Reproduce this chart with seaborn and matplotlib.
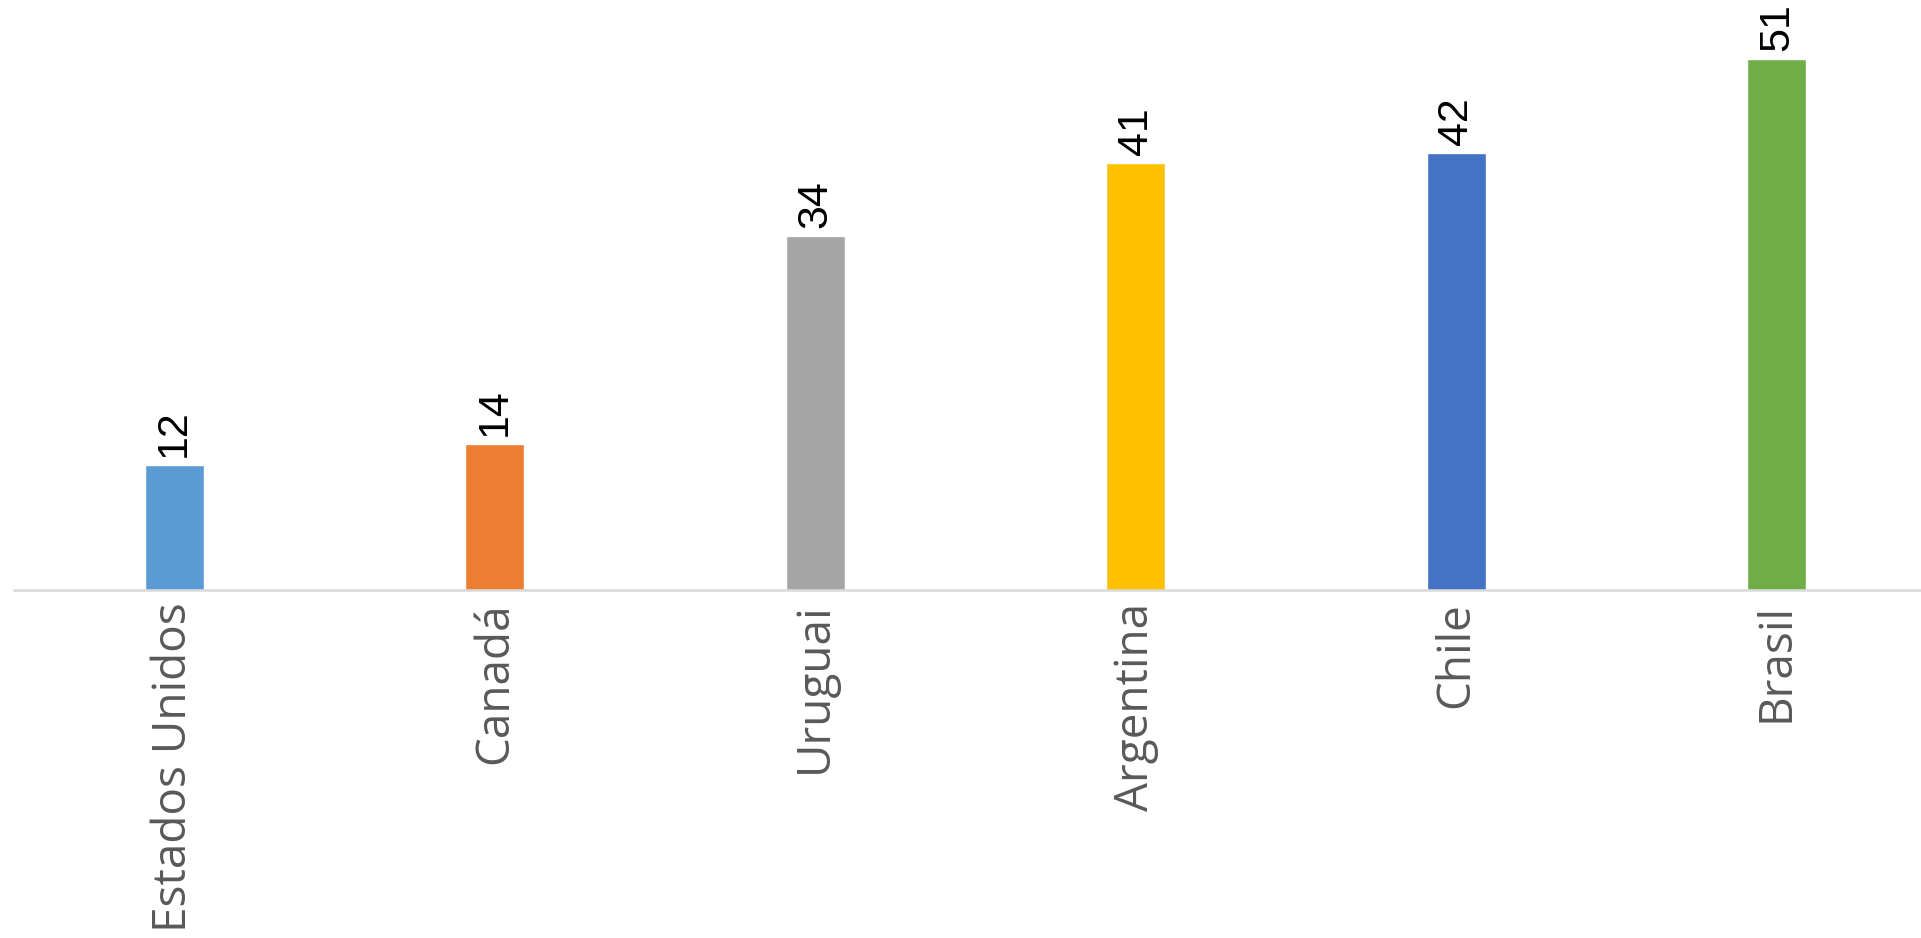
import pandas as pd
import seaborn as sns
import matplotlib.pyplot as plt

# Data
paises = ['Estados Unidos', 'Canadá', 'Uruguai', 'Argentina', 'Chile', 'Brasil']
valores = [12, 14, 34, 41, 42, 51]
cores = ['#5B9BD5', '#ED7D31', '#A5A5A5', '#FFC000', '#4472C4', '#70AD47']

df = pd.DataFrame({'pais': paises, 'valor': valores})

sns.set_style('white')
plt.rcParams['font.family'] = ['Open Sans', 'DejaVu Sans']

fig = plt.figure(figsize=(19.21, 9.38), dpi=100)
ax = fig.add_axes([14 / 1921, 348 / 938, 1923 / 1921, 590 / 938])

sns.barplot(data=df, x='pais', y='valor', hue='pais', palette=cores,
            width=0.184, legend=False, ax=ax, saturation=1)

# value labels on top of the bars
for cont in ax.containers:
    ax.bar_label(cont, rotation=90, padding=6, fontsize=31,
                 color='black', family=['Liberation Sans', 'DejaVu Sans'])

ax.set_xlim(-0.5, 5.5)
ax.set_ylim(0, 56.7)
ax.set_xlabel('')
ax.set_ylabel('')
ax.set_yticks([])
ax.tick_params(axis='x', length=0, pad=9, labelsize=33, labelcolor='#595959')
for lbl in ax.get_xticklabels():
    lbl.set_rotation(90)

for s in ['top', 'left', 'right']:
    ax.spines[s].set_visible(False)
ax.spines['bottom'].set_color('#D9D9D9')
ax.spines['bottom'].set_linewidth(1.8)

fig.savefig('out.png', dpi=100)
